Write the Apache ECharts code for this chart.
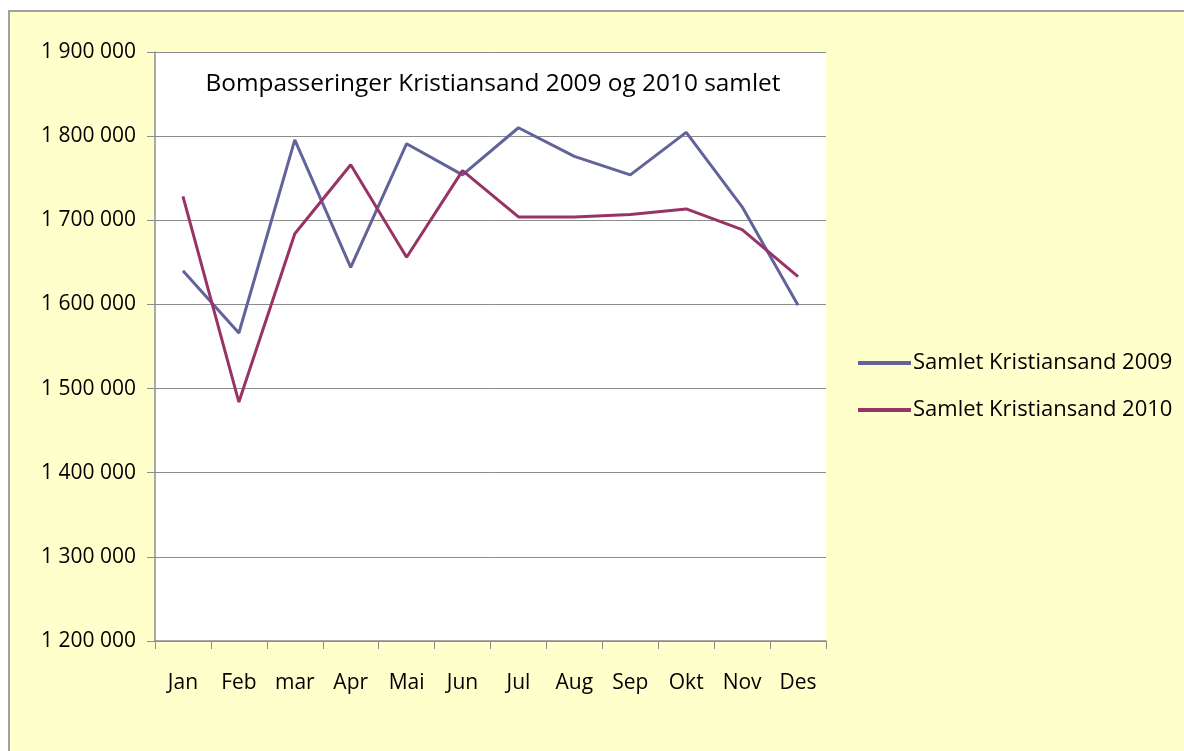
<!DOCTYPE html>
<html>
<head>
<meta charset="utf-8">
<title>Bompasseringer Kristiansand</title>
<script src="https://cdn.jsdelivr.net/npm/echarts@6/dist/echarts.min.js"></script>
<style>
  html, body { margin: 0; padding: 0; background: #fff; }
  #chart { width: 1184px; height: 751px; }
</style>
</head>
<body>
<div id="chart"></div>
<script>
// months as written on the chart
const months = ['Jan', 'Feb', 'mar', 'Apr', 'Mai', 'Jun', 'Jul', 'Aug', 'Sep', 'Okt', 'Nov', 'Des'];

// monthly passings
const samlet2009 = [1640000, 1566000, 1795500, 1644000, 1791000, 1754000, 1810000, 1776000, 1754000, 1804500, 1716000, 1599000];
const samlet2010 = [1728500, 1484000, 1684000, 1766000, 1656000, 1759000, 1704000, 1704000, 1707000, 1713500, 1689000, 1633000];

const seriesNames = ['Samlet Kristiansand 2009', 'Samlet Kristiansand 2010'];
const colors = ['#62639B', '#993366'];

const font = 'Open Sans, Noto Sans, sans-serif';

// "1 900 000" style labels
const fmt = v => String(v).replace(/\B(?=(\d{3})+(?!\d))/g, ' ');

const chart = echarts.init(document.getElementById('chart'));
chart.setOption({
  backgroundColor: '#ffffff',
  animation: false,
  color: colors,
  graphic: [{
    type: 'rect',
    z: -10,
    shape: { x: 9, y: 11, width: 1200, height: 760 },
    style: { fill: '#FFFFCC', stroke: '#A0A0A0', lineWidth: 2 }
  }],
  title: {
    text: 'Bompasseringer Kristiansand 2009 og 2010 samlet',
    left: 488, top: 67, textAlign: 'center',
    textStyle: { fontFamily: font, fontSize: 24.4, fontWeight: 'normal', color: '#000' }
  },
  legend: {
    orient: 'vertical',
    left: 853, top: 347,
    itemWidth: 53, itemHeight: 4, itemGap: 25,
    icon: 'rect',
    textStyle: { fontFamily: font, fontSize: 22, color: '#000', padding: [0, 0, 0, -3] },
    data: seriesNames
  },
  grid: {
    left: 155, top: 52, right: 358, bottom: 110,
    show: true, backgroundColor: '#ffffff', borderWidth: 0
  },
  xAxis: {
    type: 'category',
    data: months,
    boundaryGap: true,
    axisLine: { lineStyle: { color: '#8C8C8C', width: 1.5 } },
    axisTick: { show: true, length: 8, lineStyle: { color: '#8C8C8C' } },
    axisLabel: { fontFamily: font, fontSize: 21, color: '#000', margin: 32 }
  },
  yAxis: {
    type: 'value',
    min: 1200000, max: 1900000, interval: 100000,
    axisLine: { show: true, lineStyle: { color: '#8C8C8C', width: 1.5 } },
    axisTick: { show: true, length: 8, lineStyle: { color: '#8C8C8C' } },
    splitLine: { lineStyle: { color: '#8C8C8C', width: 1 } },
    axisLabel: { fontFamily: font, fontSize: 21, color: '#000', margin: 19, formatter: fmt }
  },
  series: [
    { name: seriesNames[0], type: 'line', data: samlet2009, symbol: 'none', lineStyle: { width: 3 } },
    { name: seriesNames[1], type: 'line', data: samlet2010, symbol: 'none', lineStyle: { width: 3 } }
  ]
});
</script>
</body>
</html>
